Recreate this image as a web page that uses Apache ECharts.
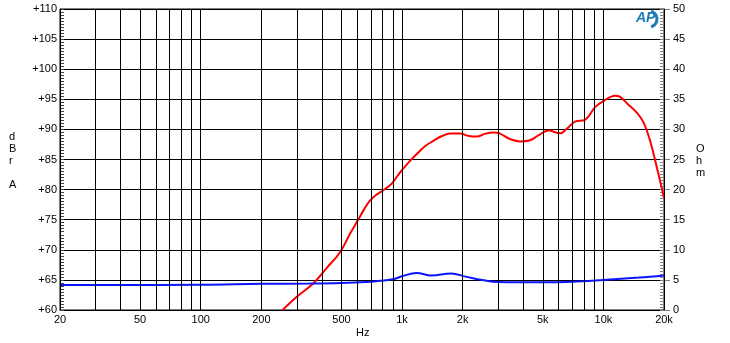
<!DOCTYPE html>
<html><head><meta charset="utf-8">
<script src="https://cdn.jsdelivr.net/npm/echarts@6/dist/echarts.min.js"></script>
<style>html,body{margin:0;padding:0;background:#fff}#c{width:730px;height:343px}</style>
</head><body><div id="c"></div>
<script>
const splFreq = [255,300,362,423,492,552,596,650,694,750,808,889,950,996,1090,1183,1300,1430,1580,1732,1941,2150,2350,2600,2850,3068,3438,3856,4324,4756,5334,6094,6576,7234,8112,9100,10000,11430,12110,13310,14640,15800,17060,18420,20000];
const splDb = [60.0,62.2,64.4,67.0,69.6,72.7,74.6,76.8,78.2,79.2,79.9,81.0,82.3,83.2,84.7,85.9,87.2,88.1,88.9,89.3,89.3,88.9,88.8,89.3,89.5,89.3,88.4,88.0,88.2,89.0,89.8,89.35,90.1,91.3,91.6,93.7,94.7,95.6,95.4,94.1,92.8,91.2,88.1,83.7,78.6];
const impFreq = [20,100,200,350,500,700,900,1000,1180,1400,1750,2100,2500,3000,5000,7000,10000,15000,20000];
const impOhm = [4.15,4.2,4.35,4.4,4.5,4.7,5.1,5.6,6.15,5.75,6.05,5.5,5.0,4.65,4.6,4.7,5.0,5.4,5.75];
const gridFreqs = [20,30,40,50,60,70,80,90,100,200,300,400,500,600,700,800,900,1000,2000,3000,4000,5000,6000,7000,8000,9000,10000,20000];
const xTickLabels = {20:'20',50:'50',100:'100',200:'200',500:'500',1000:'1k',2000:'2k',5000:'5k',10000:'10k',20000:'20k'};

const FONT = 'Liberation Sans';
const PLOT_W = 730 - 60 - 66;
const chart = echarts.init(document.getElementById('c'));
const markData = gridFreqs.map(f => ({
  xAxis: f,
  label: {show: xTickLabels[f] !== undefined, formatter: xTickLabels[f] || '', position: 'start', distance: 4,
          color: '#000', fontFamily: FONT, fontSize: 11}
}));
chart.setOption({
  animation: false,
  grid: {left: 60, right: 66, top: 9, bottom: 33, show: true, borderColor: '#000', borderWidth: 1},
  xAxis: {type: 'log', logBase: 10, min: 20, max: 20000,
    axisLine: {lineStyle: {color: '#000'}}, axisTick: {show: false}, axisLabel: {show: false},
    splitLine: {show: false}, minorSplitLine: {show: false}},
  yAxis: [
    {type: 'value', min: 60, max: 110, interval: 5, position: 'left',
     axisLine: {show: true, lineStyle: {color: '#000'}},
     axisTick: {show: true, inside: true, length: 4, lineStyle: {color: '#444'}},
     minorTick: {show: true, splitNumber: 10, length: 4, lineStyle: {color: '#444', width: 1}},
     axisLabel: {formatter: v => '+' + v, color: '#000', fontFamily: FONT, fontSize: 11, margin: 3},
     splitLine: {show: true, lineStyle: {color: '#000', width: 1}}},
    {type: 'value', min: 0, max: 50, interval: 5, position: 'right',
     axisLine: {show: true, lineStyle: {color: '#000'}},
     axisTick: {show: false},
     axisLabel: {color: '#000', fontFamily: FONT, fontSize: 11, margin: 9},
     splitLine: {show: false}},
    {type: 'value', min: 0, max: 50, interval: 5, position: 'left', offset: -PLOT_W,
     axisLine: {show: false}, axisLabel: {show: false}, splitLine: {show: false},
     axisTick: {show: true, inside: false, length: 4, lineStyle: {color: '#808080'}},
     minorTick: {show: true, splitNumber: 10, length: 4, lineStyle: {color: '#808080'}}},
    {type: 'value', min: 0, max: 50, interval: 5, position: 'left', offset: -PLOT_W,
     axisLine: {show: false}, axisLabel: {show: false}, splitLine: {show: false},
     axisTick: {show: true, inside: true, length: 6, lineStyle: {color: '#808080'}}}
  ],
  series: [
    {type: 'line', yAxisIndex: 0, data: splFreq.map((f,i)=>[f, splDb[i]]), smooth: 0.4, showSymbol: false,
     lineStyle: {color: '#ff0000', width: 2}, clip: true,
     markLine: {silent: true, symbol: 'none', animation: false, lineStyle: {color: '#000', width: 1, type: 'solid'},
       data: markData}},
    {type: 'line', yAxisIndex: 1, data: impFreq.map((f,i)=>[f, impOhm[i]]), smooth: 0.4, showSymbol: false,
     lineStyle: {color: '#0a14ff', width: 2}}
  ],
  graphic: [
    {type: 'text', left: 9, top: 131, style: {text: 'd\nB\nr\n\nA', font: '11px ' + FONT, fill: '#000', lineHeight: 12, align: 'center'}},
    {type: 'text', left: 696, top: 143, style: {text: 'O\nh\nm', font: '11px ' + FONT, fill: '#000', lineHeight: 12, align: 'center'}},
    {type: 'text', left: 356, top: 327, style: {text: 'Hz', font: '11px ' + FONT, fill: '#000'}},
    {type: 'arc', shape: {cx: 649, cy: 19, r: 8, startAngle: -1.3, endAngle: 1.3}, style: {stroke: '#1f7ab8', lineWidth: 3, fill: null}},
    {type: 'text', left: 636, top: 11, style: {text: 'AP', font: 'italic bold 14px ' + FONT, fill: '#1f7ab8'}}
  ]
});
</script></body></html>
